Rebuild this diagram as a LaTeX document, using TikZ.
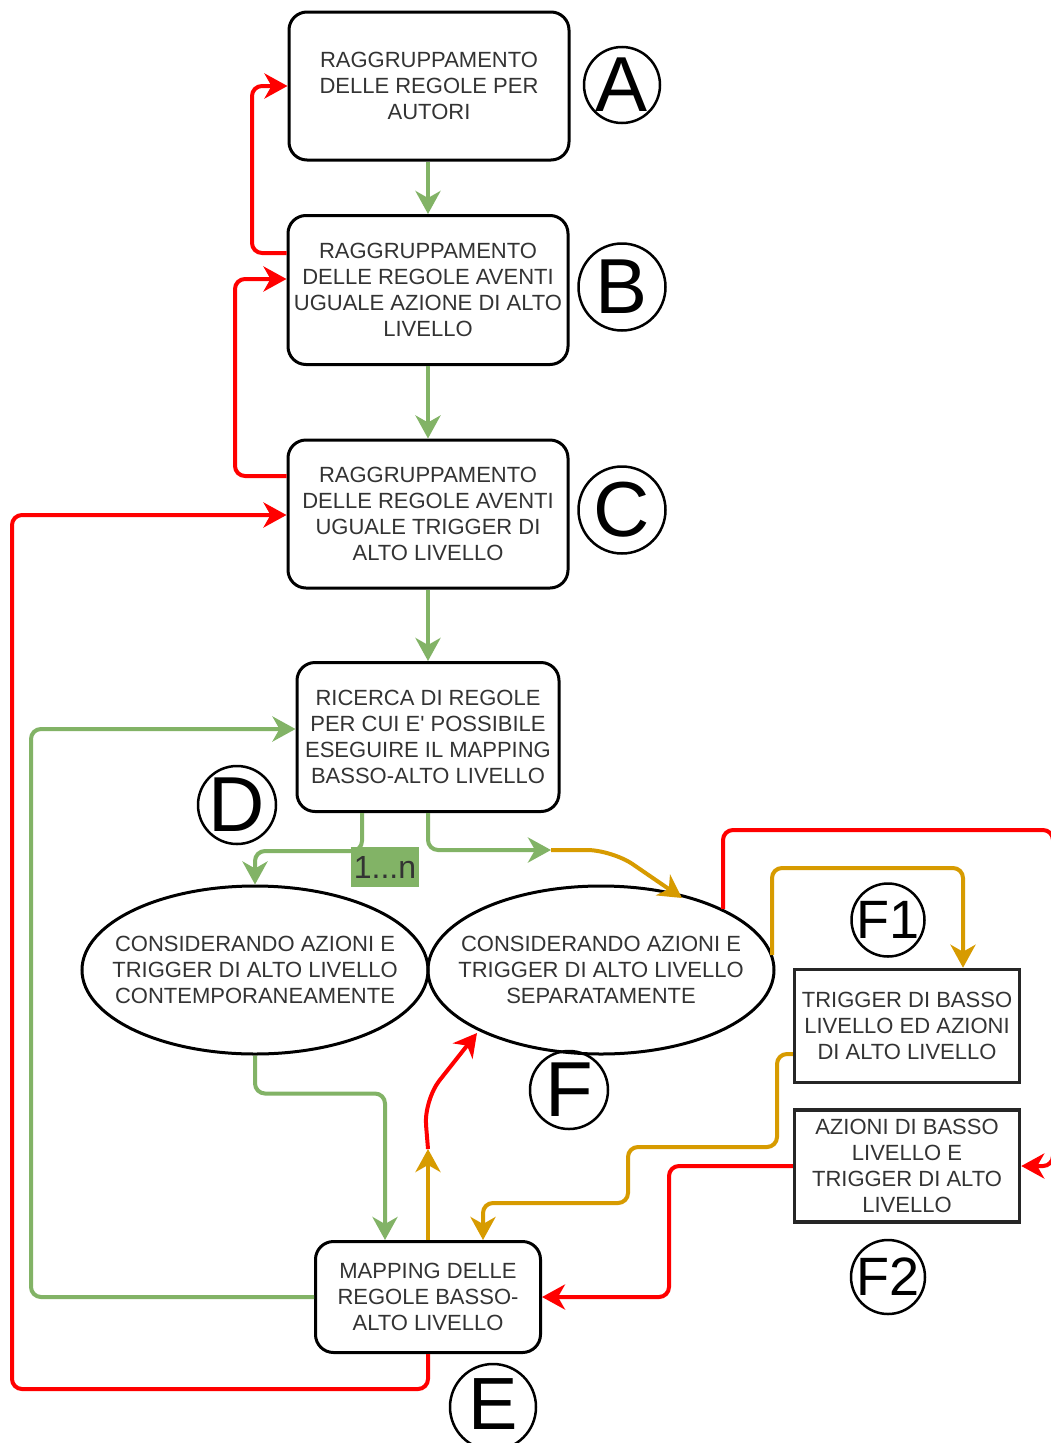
\documentclass[tikz,border=0pt]{standalone}
\usepackage{fontspec}
\setmainfont{Liberation Sans}
\usetikzlibrary{shapes.geometric,arrows.meta,calc}
\definecolor{cgreen}{HTML}{82B366}
\definecolor{cred}{HTML}{FF0000}
\definecolor{corange}{HTML}{D79B00}
\definecolor{ctext}{HTML}{333333}
\begin{document}
\begin{tikzpicture}[x=1pt,y=-1pt,
  txt/.style={font=\fontsize{22}{26}\selectfont, text=ctext, align=center, inner sep=0},
  rbox/.style={draw=black, fill=white, line width=3pt, rounded corners=18pt, inner sep=0, txt},
  sbox/.style={draw=black!85, fill=white, line width=3.5pt, inner sep=0, txt},
  oval/.style={ellipse, draw=black, line width=3pt, minimum width=346, minimum height=168, inner sep=0},
  ring/.style={circle, draw=black, line width=2.5pt, inner sep=0},
  letter/.style={font=\fontsize{78}{78}\selectfont, inner sep=0},
  sletter/.style={font=\fontsize{54}{54}\selectfont, inner sep=0},
  conn/.style={line width=4pt, rounded corners=10pt, -{Stealth[length=23pt,width=25pt,inset=7pt]}},
]
\fill[white] (0,0) rectangle (1050,1443);
\useasboundingbox (0,0) rectangle (1050,1443);

% boxes
\node[rbox, minimum width=280, minimum height=148] (A) at (429,86) {RAGGRUPPAMENTO\\DELLE REGOLE PER\\AUTORI};
\node[rbox, minimum width=280, minimum height=149] (B) at (428,290) {RAGGRUPPAMENTO\\DELLE REGOLE AVENTI\\UGUALE AZIONE DI ALTO\\LIVELLO};
\node[rbox, minimum width=280, minimum height=148] (C) at (428,514) {RAGGRUPPAMENTO\\DELLE REGOLE AVENTI\\UGUALE TRIGGER DI\\ALTO LIVELLO};
\node[rbox, minimum width=262, minimum height=149] (D) at (428,737) {RICERCA DI REGOLE\\PER CUI E\textquotesingle{} POSSIBILE\\ESEGUIRE IL MAPPING\\BASSO-ALTO LIVELLO};
\node[oval] (L) at (255,970) {};
\node[txt] (Lt) at (L) {CONSIDERANDO AZIONI E\\TRIGGER DI ALTO LIVELLO\\CONTEMPORANEAMENTE};
\node[oval] (R) at (601,970) {};
\node[txt] (Rt) at (R) {CONSIDERANDO AZIONI E\\TRIGGER DI ALTO LIVELLO\\SEPARATAMENTE};
\node[sbox, minimum width=225, minimum height=113] (F1) at (907,1026) {TRIGGER DI BASSO\\LIVELLO ED AZIONI\\DI ALTO LIVELLO};
\node[sbox, minimum width=225, minimum height=112] (F2) at (907,1166) {AZIONI DI BASSO\\LIVELLO E\\TRIGGER DI ALTO\\LIVELLO};
\node[rbox, minimum width=225, minimum height=111] (M) at (428,1297) {MAPPING DELLE\\REGOLE BASSO-\\ALTO LIVELLO};

% circled letters
\node[ring, minimum size=76] (cA) at (622,85) {};
\node[letter] (lA) at (cA) {A};
\node[ring, minimum size=87] (cB) at (622,287) {};
\node[letter] (lB) at (cB) {B};
\node[ring, minimum size=87] (cC) at (622,510) {};
\node[letter] (lC) at (cC) {C};
\node[ring, minimum size=78] (cD) at (237,805) {};
\node[letter] (lD) at (cD) {D};
\node[ring, minimum size=78] (cF) at (569,1090) {};
\node[letter] (lF) at (cF) {F};
\node[ring, minimum size=73] (cF1) at (888,920) {};
\node[sletter] (lF1) at (cF1) {F1};
\node[ring, minimum size=74] (cF2) at (888,1277) {};
\node[sletter] (lF2) at (cF2) {F2};
\node[ring, minimum size=86] (cE) at (493,1407) {};
\node[letter, font=\fontsize{74}{74}\selectfont] (lE) at (493,1404) {E};

% green connectors
\draw[conn, cgreen] (B.north |- A.south) -- (B.north);
\draw[conn, cgreen] (B.south) -- (C.north);
\draw[conn, cgreen] (C.south) -- (D.north);
\draw[conn, cgreen] ($(D.south)+(-66,0)$) -- ++(0,38) -| (L.north);
\coordinate (j1) at (551,850);
\draw[conn, cgreen] (D.south) |- (j1);
\draw[conn, cgreen] (L.south) -- ++(0,38) -| ($(M.north)+(-43,0)$);
\draw[conn, cgreen] (M.west) -| (31,729) -- ($(D.west)+(0,-8)$);

% orange connectors
\coordinate (oR1) at (682,898);
\draw[conn, corange, rounded corners=25pt] (j1) -- (612,850) -- (oR1);
\coordinate (mo) at (428,1149);
\draw[conn, corange] (M.north) -- (mo);
\coordinate (oR2) at (772,955);
\draw[conn, corange] (oR2) |- (963,868) -- ($(F1.north)+(56,0)$);
\draw[conn, corange] ($(F1.west)+(0,28)$) -| (777,1147) -| (628,1203) -| ($(M.north)+(55,0)$);

% red connectors
\draw[conn, cred] ($(B.west)+(0,-37)$) -| (252,86) -- (A.west);
\draw[conn, cred] ($(C.west)+(0,-38)$) -| (235,279) -- ($(B.west)+(0,-11)$);
\draw[conn, cred] (M.south) |- (12,1389) |- ($(C.west)+(0,1)$);
\coordinate (rR1) at (477,1033);
\draw[conn, cred, rounded corners=25pt] (mo) -- (424,1100) -- (rR1);
\draw[conn, cred] (F2.west) -| (669,1297) -- (M.east);
\coordinate (rR2) at (723,909);
\draw[conn, cred] (rR2) |- (1053,830) |- (F2.east);

% label
\node[fill=cgreen, minimum width=68, minimum height=40, inner sep=0, font=\fontsize{32}{32}\selectfont, text=ctext] (lbl) at (385,867) {1...n};
\end{tikzpicture}
\end{document}
